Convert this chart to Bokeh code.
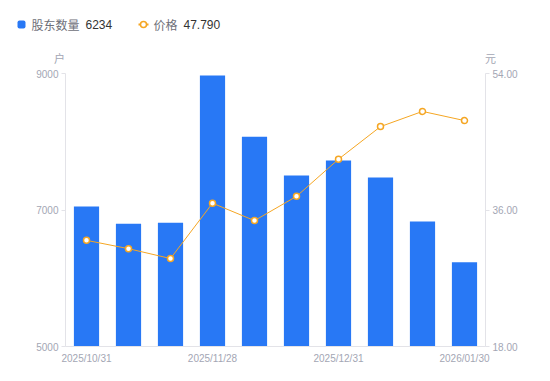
from bokeh.plotting import figure
from bokeh.layouts import column
from bokeh.models import Range1d, LinearAxis, FixedTicker, ColumnDataSource, NumeralTickFormatter
from bokeh.core.properties import value
from bokeh.embed import file_html
from bokeh.resources import INLINE

dates = ["2025/10/31", "2025/11/10", "2025/11/20", "2025/11/28", "2025/12/10",
         "2025/12/20", "2025/12/31", "2026/01/09", "2026/01/20", "2026/01/30"]
holders = [7050, 6800, 6815, 8970, 8075, 7505, 7725, 7475, 6830, 6234]
prices = [32.0, 30.9, 29.6, 36.9, 34.6, 37.8, 42.7, 47.0, 49.0, 47.79]
label_idx = [0, 3, 6, 9]

BLUE = "#2878f5"
ORANGE = "#f5a623"
AXIS_TEXT = "#a3a6b4"
AXIS_LINE = "#e3e3e8"
CJK = "Noto Sans CJK SC"
LATIN = "Liberation Sans"

W = 534
HDR_H = 64
idx = list(range(len(dates)))
src = ColumnDataSource(dict(x=idx, h=holders, p=prices))

# ---- main chart ----
p = figure(frame_width=420, frame_height=273, output_backend="svg", toolbar_location=None,
           x_range=Range1d(-0.5, len(dates) - 0.5), y_range=Range1d(5000, 9000),
           min_border_left=65, min_border_right=49, min_border_top=9,
           min_border_bottom=19)
p.frame_align = False
p.outline_line_color = None
p.grid.visible = False
p.extra_y_ranges = {"price": Range1d(18, 54)}

p.vbar(x="x", top="h", bottom=5000, width=0.6, source=src, color=BLUE, line_color=None)
p.line(x="x", y="p", source=src, y_range_name="price", color=ORANGE, line_width=1)
p.scatter(x="x", y="p", source=src, y_range_name="price", size=6,
          fill_color="white", line_color=ORANGE, line_width=1.5)

def style_axis(ax):
    ax.axis_line_color = AXIS_LINE
    ax.major_tick_line_color = AXIS_LINE
    ax.minor_tick_line_color = None
    ax.major_label_text_color = AXIS_TEXT
    ax.major_label_text_font = LATIN
    ax.major_label_text_font_size = "10px"

p.yaxis.ticker = FixedTicker(ticks=[5000, 7000, 9000])
p.yaxis.major_tick_in = 0
p.yaxis.major_tick_out = 4
p.yaxis.major_label_standoff = 3
style_axis(p.yaxis[0])

ra = LinearAxis(y_range_name="price", ticker=FixedTicker(ticks=[18, 36, 54]))
ra.formatter = NumeralTickFormatter(format="0.00")
ra.major_tick_in = 0
ra.major_tick_out = 4
ra.major_label_standoff = 3
style_axis(ra)
p.add_layout(ra, "right")

p.xaxis.ticker = FixedTicker(ticks=label_idx)
p.xaxis.major_label_overrides = {i: dates[i] for i in label_idx}
style_axis(p.xaxis[0])
p.xaxis.major_tick_line_color = None
p.xaxis.major_tick_in = 0
p.xaxis.major_tick_out = 0
p.xaxis.major_label_standoff = 6

# ---- legend / unit header ----
hdr = figure(frame_width=W, frame_height=HDR_H, output_backend="svg", toolbar_location=None,
             x_range=Range1d(0, W), y_range=Range1d(HDR_H, 0), min_border=0)
hdr.frame_align = False
hdr.axis.visible = False
hdr.grid.visible = False
hdr.outline_line_color = None

ly = 24
hdr.rect(x=[21], y=[ly], width=[8], height=[8], color=BLUE, line_color=None,
         border_radius=2)
hdr.text(x=[31], y=[ly], text=["股东数量"], text_font=value(CJK), text_font_size="12px",
         text_color="#6e7079", text_baseline="middle")
hdr.text(x=[85], y=[ly], text=[str(holders[-1])], text_font=value(LATIN), text_font_size="12px",
         text_color="#333333", text_baseline="middle")
hdr.line(x=[138, 148], y=[ly, ly], color=ORANGE, line_width=2)
hdr.scatter(x=[143], y=[ly], size=6, fill_color="white", line_color=ORANGE, line_width=1.5)
hdr.text(x=[153], y=[ly], text=["价格"], text_font=value(CJK), text_font_size="12px",
         text_color="#6e7079", text_baseline="middle")
hdr.text(x=[183], y=[ly], text=["%.3f" % prices[-1]], text_font=value(LATIN), text_font_size="12px",
         text_color="#333333", text_baseline="middle")
hdr.text(x=[59], y=[57], text=["户"], text_font=value(CJK), text_font_size="11px",
         text_color=AXIS_TEXT, text_baseline="middle", text_align="center")
hdr.text(x=[490], y=[57], text=["元"], text_font=value(CJK), text_font_size="11px",
         text_color=AXIS_TEXT, text_baseline="middle", text_align="center")

layout = column(hdr, p, spacing=0)
open("out.html", "w").write(file_html(layout, INLINE))
